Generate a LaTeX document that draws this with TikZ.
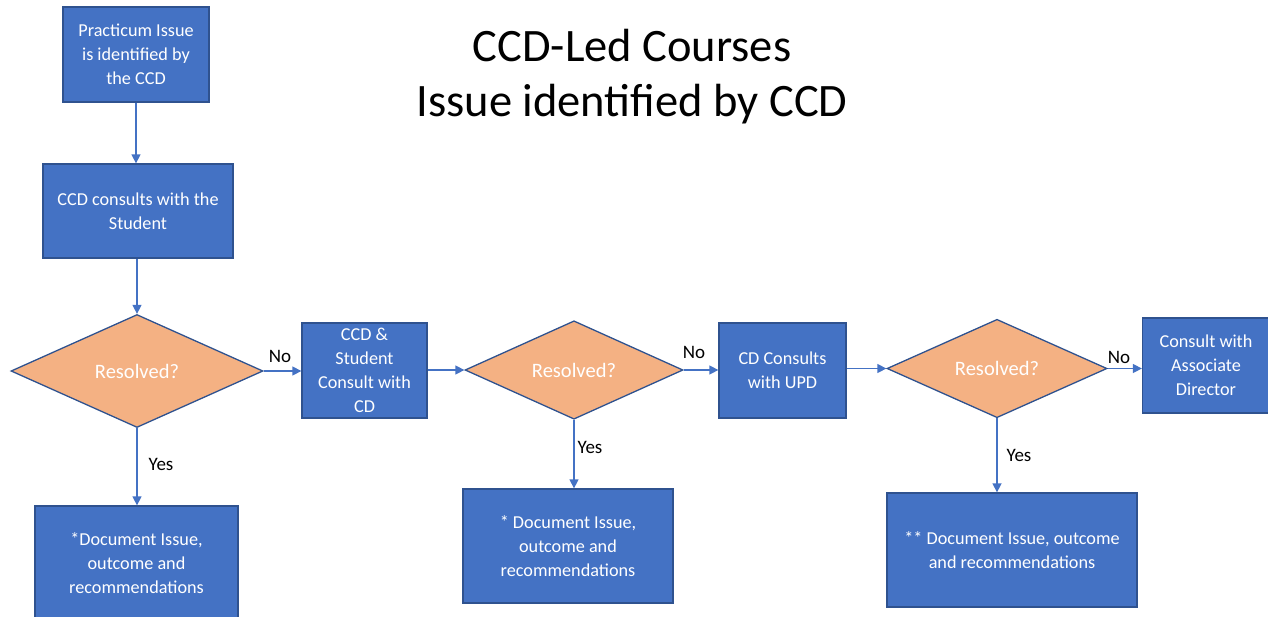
\documentclass[tikz,border=0pt]{standalone}
\usepackage{fontspec}
\setmainfont{Carlito}
\usetikzlibrary{shapes.geometric,arrows.meta}
\definecolor{boxblue}{HTML}{4472C4}
\definecolor{edgeblue}{HTML}{2F528F}
\definecolor{diafill}{HTML}{F4B183}
\begin{document}
\begin{tikzpicture}[x=1pt,y=-1pt,
  procbox/.style={rectangle,draw=edgeblue,fill=boxblue,line width=1.3pt,inner sep=0pt,
    text=white,align=center,font=\fontsize{18.2}{23.8}\selectfont},
  decision/.style={diamond,draw=edgeblue,fill=diafill,line width=1.3pt,inner sep=0pt,
    text=white,font=\fontsize{20.5}{24}\selectfont},
  flow/.style={draw=boxblue,line width=1.4pt,-{Triangle[length=9pt,width=9pt]}},
  lbl/.style={text=black,font=\fontsize{19}{22}\selectfont,inner sep=0pt},
  ttl/.style={anchor=base,inner sep=0pt,font=\fontsize{46.5}{55}\selectfont}]
\useasboundingbox (0,0) rectangle (1268,616);
% title
\node[ttl] (title1) at (632,61) {CCD-Led Courses};
\node[ttl] (title2) at (632,116) {Issue identified by CCD};
% boxes
\node[procbox,minimum width=146pt,minimum height=95pt] (b1) at (136,54.5)
  {Practicum Issue\\is identified by\\the CCD};
\node[procbox,minimum width=190pt,minimum height=94pt] (b2) at (138,211)
  {CCD consults with the\\Student};
\node[decision,minimum width=252pt,minimum height=113pt] (d1) at (137,371) {Resolved?};
\node[procbox,minimum width=125pt,minimum height=95pt] (b3) at (364.5,370.5)
  {CCD \&\\Student\\Consult with\\CD};
\node[procbox,minimum width=203pt,minimum height=114pt] (doc1) at (136.5,563)
  {*Document Issue,\\outcome and\\recommendations};
\node[decision,minimum width=218pt,minimum height=94pt] (d2) at (574,370) {Resolved?};
\node[procbox,minimum width=127pt,minimum height=95pt] (b4) at (782.5,370.5)
  {CD Consults\\with UPD};
\node[procbox,minimum width=210pt,minimum height=114pt] (doc2) at (568,546)
  {* Document Issue,\\outcome and\\recommendations};
\node[decision,minimum width=220pt,minimum height=93pt] (d3) at (997,368.5) {Resolved?};
\node[procbox,minimum width=127pt,minimum height=95pt] (b5) at (1206,365.5)
  {Consult with\\Associate\\Director};
\node[procbox,minimum width=250pt,minimum height=114pt] (doc3) at (1012,550)
  {** Document Issue, outcome\\and recommendations};
% connectors
\draw[flow] (b1.south) -- (b1.south |- b2.north);
\draw[flow] (b2.south -| d1.north) -- (d1.north);
\draw[flow] (d1.east) -- (b3.west |- d1.east);
\draw[flow] (d1.south) -- (d1.south |- doc1.north);
\draw[flow] (b3.east |- d2.west) -- (d2.west);
\draw[flow] (d2.east) -- (b4.west |- d2.east);
\draw[flow] (d2.south) -- (d2.south |- doc2.north);
\draw[flow] (b4.east |- d3.west) -- (d3.west);
\draw[flow] (d3.east) -- (b5.west |- d3.east);
\draw[flow] (d3.south) -- (d3.south |- doc3.north);
% labels
\node[lbl] (no1) at (280,356) {No};
\node[lbl] (yes1) at (161,464) {Yes};
\node[lbl] (no2) at (694,352) {No};
\node[lbl] (yes2) at (590,447) {Yes};
\node[lbl] (no3) at (1119,357) {No};
\node[lbl] (yes3) at (1019,455) {Yes};
\end{tikzpicture}
\end{document}
